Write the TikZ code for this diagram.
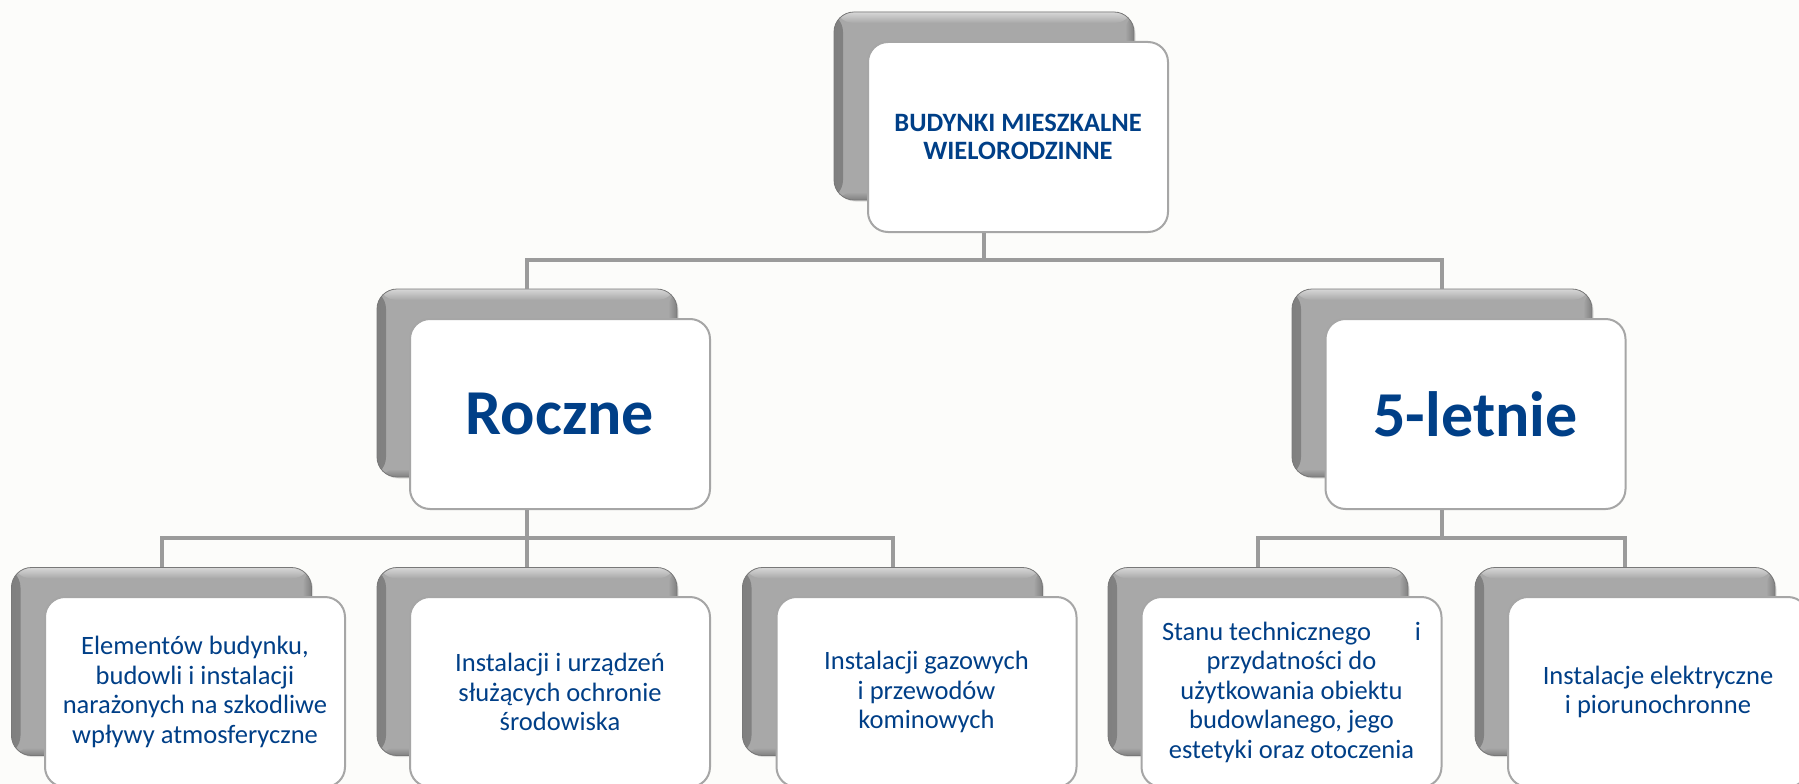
\documentclass[tikz,border=0pt]{standalone}
\usepackage{fontspec}
\setmainfont{Carlito}
\usetikzlibrary{shadows}
\definecolor{bgc}{RGB}{252,252,250}
\definecolor{linec}{RGB}{155,155,155}
\definecolor{framec}{RGB}{166,166,166}
\definecolor{gmid}{RGB}{168,168,168}
\definecolor{gdark}{RGB}{128,128,128}
\definecolor{glight}{RGB}{215,215,215}
\definecolor{gedge}{RGB}{120,120,120}
\definecolor{txtc}{RGB}{0,63,135}
\tikzset{
  backbox/.style={draw=gedge, line width=0.8pt, rounded corners=20pt,
    fill=gmid,
    minimum width=300pt, minimum height=188pt, inner sep=0pt,
    drop shadow={opacity=0.25, shadow xshift=1.5pt, shadow yshift=-1.5pt},
    path picture={
      \shade[left color=gdark, right color=gmid]
        (path picture bounding box.north west) rectangle ([xshift=9pt]path picture bounding box.south west);
      \shade[right color=gdark, left color=gmid]
        (path picture bounding box.north east) rectangle ([xshift=-9pt]path picture bounding box.south east);
      \shade[top color=glight, bottom color=gmid]
        (path picture bounding box.north west) rectangle ([yshift=-11pt]path picture bounding box.north east);
      \shade[bottom color=gdark, top color=gmid]
        (path picture bounding box.south west) rectangle ([yshift=8pt]path picture bounding box.south east);
    }},
  frontbox/.style={draw=framec, line width=2pt, fill=white, rounded corners=20pt,
    minimum width=300pt, minimum height=190pt, inner sep=0pt,
    text=txtc, align=center},
  conn/.style={draw=linec, line width=4pt, line join=miter},
  toptxt/.style={font=\fontsize{26.5}{28.5}\selectfont\bfseries},
  midtxt/.style={font=\fontsize{64}{70}\selectfont\bfseries},
  lowtxt/.style={font=\fontsize{26.5}{29.5}\selectfont}
}
\begin{document}
\begin{tikzpicture}[x=1pt,y=-1pt]
\useasboundingbox (0,0) rectangle (1799,784);
\clip (0,0) rectangle (1799,784);
\fill[bgc] (0,0) rectangle (1799,784);
% junction levels
\coordinate (j1) at (984,260);
\coordinate (j2) at (527,538);
% top
\node[backbox] (tb) at (984,106) {};
\node[frontbox, toptxt] (t) at (1018,137) {BUDYNKI MIESZKALNE\\WIELORODZINNE};
% second level
\node[backbox] (rb) at (527,383) {};
\node[frontbox, midtxt] (r) at (560,414) {Roczne};
\node[backbox] (fb) at (1442,383) {};
\node[frontbox, midtxt] (f) at (1475.5,414) {5-letnie};
% bottom level
\node[backbox] (n1b) at (161.5,661.5) {};
\node[frontbox, lowtxt] (n1) at (195,692) {Elementów budynku,\\budowli i instalacji\\narażonych na szkodliwe\\wpływy atmosferyczne};
\node[backbox] (n2b) at (527,661.5) {};
\node[frontbox, lowtxt] (n2) at (560,692) {Instalacji i urządzeń\\służących ochronie\\środowiska};
\node[backbox] (n3b) at (892.5,661.5) {};
\node[frontbox, lowtxt] (n3) at (926.5,692) {Instalacji gazowych\\i przewodów\\kominowych};
\node[backbox] (n4b) at (1258,661.5) {};
\node[frontbox, lowtxt] (n4) at (1291.5,692) {\makebox[259pt]{Stanu technicznego\hfill i}\\przydatności do\\użytkowania obiektu\\budowlanego, jego\\estetyki oraz otoczenia};
\node[backbox] (n5b) at (1625,661.5) {};
\node[frontbox, lowtxt] (n5) at (1658,692) {Instalacje elektryczne\\i piorunochronne};
% connectors
\draw[conn] (tb.center |- t.south) -- (j1);
\draw[conn] (rb.north) -- (rb.north |- j1) -- (fb.north |- j1) -- (fb.north);
\draw[conn] (rb.center |- r.south) -- (rb.center |- j2);
\draw[conn] (n1b.north) -- (n1b.north |- j2) -- (n3b.north |- j2) -- (n3b.north);
\draw[conn] (n2b.north) -- (n2b.north |- j2);
\draw[conn] (fb.center |- f.south) -- (fb.center |- j2);
\draw[conn] (n4b.north) -- (n4b.north |- j2) -- (n5b.north |- j2) -- (n5b.north);
\end{tikzpicture}
\end{document}
